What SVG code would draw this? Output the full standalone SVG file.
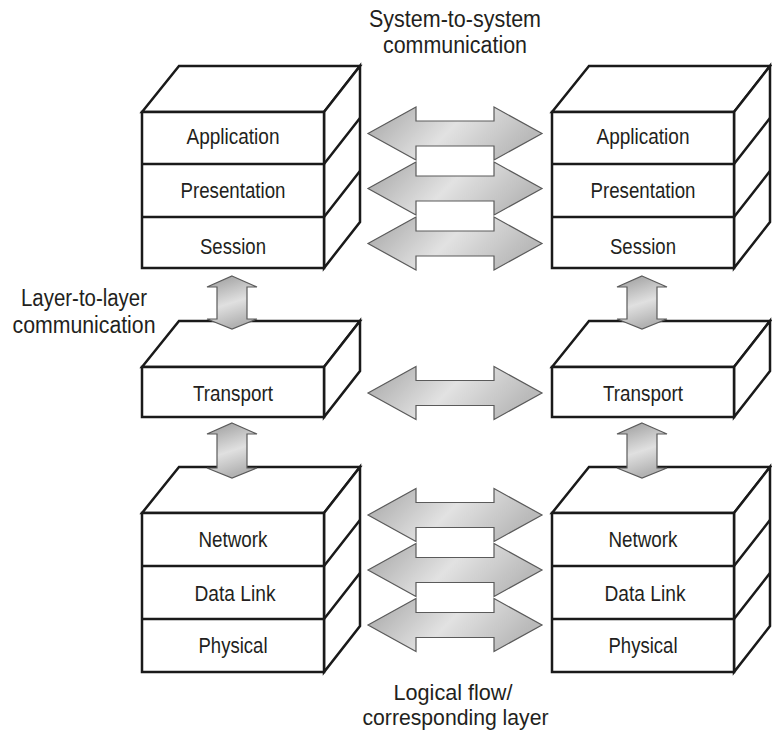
<svg xmlns="http://www.w3.org/2000/svg" width="772" height="734" viewBox="0 0 772 734">
<defs>
<linearGradient id="gh" x1="0" y1="0" x2="1" y2="0.3">
<stop offset="0" stop-color="#a4a4a4"/>
<stop offset="0.55" stop-color="#e2e2e2"/>
<stop offset="1" stop-color="#bababa"/>
</linearGradient>
<linearGradient id="gv" x1="0" y1="0" x2="0.3" y2="1">
<stop offset="0" stop-color="#999999"/>
<stop offset="0.6" stop-color="#e0e0e0"/>
<stop offset="1" stop-color="#b3b3b3"/>
</linearGradient>
<path id="harrow" d="M0,0 L48,-26.5 L48,-12.5 L126,-12.5 L126,-26.5 L174,0 L126,26.5 L126,12.5 L48,12.5 L48,26.5 Z"/>
</defs>
<style>
.box{fill:#fff;stroke:#1a1a1a;stroke-width:2.5;stroke-linejoin:miter}
.div{fill:none;stroke:#1a1a1a;stroke-width:2.5}
.lbl{font-family:"Liberation Sans",Arial,sans-serif;font-size:22px;fill:#231f20;text-anchor:middle}
.cap{font-family:"Liberation Sans",Arial,sans-serif;font-size:23px;fill:#231f20;text-anchor:middle}
.capb{font-family:"Liberation Sans",Arial,sans-serif;font-size:22px;fill:#231f20;text-anchor:middle}
.ha{fill:url(#gh);stroke:#5a5a5a;stroke-width:1.2;stroke-linejoin:miter}
.va{fill:url(#gv);stroke:#5a5a5a;stroke-width:1.2;stroke-linejoin:miter}
</style>

<!-- Left upper stack -->
<g id="left-upper-stack">
<polygon class="box" points="142,112 179,66 360,66 324,112"/>
<polygon class="box" points="324,112 360,66 360,222 324,268"/>
<rect class="box" x="142" y="112" width="182" height="156"/>
<path class="div" d="M142,164 H324 L360,118 M142,217 H324 L360,171"/>
<g id="left-application"><text class="lbl" x="233" y="144" textLength="93" lengthAdjust="spacingAndGlyphs">Application</text></g>
<g id="left-presentation"><text class="lbl" x="233" y="198" textLength="105" lengthAdjust="spacingAndGlyphs">Presentation</text></g>
<g id="left-session"><text class="lbl" x="233" y="254" textLength="66" lengthAdjust="spacingAndGlyphs">Session</text></g>
</g>

<!-- Right upper stack -->
<g id="right-upper-stack">
<polygon class="box" points="552,112 589,66 770,66 734,112"/>
<polygon class="box" points="734,112 770,66 770,222 734,268"/>
<rect class="box" x="552" y="112" width="182" height="156"/>
<path class="div" d="M552,164 H734 L770,118 M552,217 H734 L770,171"/>
<g id="right-application"><text class="lbl" x="643" y="144" textLength="93" lengthAdjust="spacingAndGlyphs">Application</text></g>
<g id="right-presentation"><text class="lbl" x="643" y="198" textLength="105" lengthAdjust="spacingAndGlyphs">Presentation</text></g>
<g id="right-session"><text class="lbl" x="643" y="254" textLength="66" lengthAdjust="spacingAndGlyphs">Session</text></g>
</g>

<!-- Transport boxes -->
<g id="left-transport">
<polygon class="box" points="142,367 179,321 360,321 324,367"/>
<polygon class="box" points="324,367 360,321 360,371 324,417"/>
<rect class="box" x="142" y="367" width="182" height="50"/>
<text class="lbl" x="233" y="401" textLength="80" lengthAdjust="spacingAndGlyphs">Transport</text>
</g>
<g id="right-transport">
<polygon class="box" points="552,367 589,321 770,321 734,367"/>
<polygon class="box" points="734,367 770,321 770,371 734,417"/>
<rect class="box" x="552" y="367" width="182" height="50"/>
<text class="lbl" x="643" y="401" textLength="80" lengthAdjust="spacingAndGlyphs">Transport</text>
</g>

<!-- Left lower stack -->
<g id="left-lower-stack">
<polygon class="box" points="142,513 179,467 360,467 324,513"/>
<polygon class="box" points="324,513 360,467 360,626 324,672"/>
<rect class="box" x="142" y="513" width="182" height="159"/>
<path class="div" d="M142,566 H324 L360,520 M142,619 H324 L360,573"/>
<g id="left-network"><text class="lbl" x="233" y="547" textLength="69" lengthAdjust="spacingAndGlyphs">Network</text></g>
<g id="left-datalink"><text class="lbl" x="235" y="601" textLength="81" lengthAdjust="spacingAndGlyphs">Data Link</text></g>
<g id="left-physical"><text class="lbl" x="233" y="653" textLength="69" lengthAdjust="spacingAndGlyphs">Physical</text></g>
</g>

<!-- Right lower stack -->
<g id="right-lower-stack">
<polygon class="box" points="552,513 589,467 770,467 734,513"/>
<polygon class="box" points="734,513 770,467 770,626 734,672"/>
<rect class="box" x="552" y="513" width="182" height="159"/>
<path class="div" d="M552,566 H734 L770,520 M552,619 H734 L770,573"/>
<g id="right-network"><text class="lbl" x="643" y="547" textLength="69" lengthAdjust="spacingAndGlyphs">Network</text></g>
<g id="right-datalink"><text class="lbl" x="645" y="601" textLength="81" lengthAdjust="spacingAndGlyphs">Data Link</text></g>
<g id="right-physical"><text class="lbl" x="643" y="653" textLength="69" lengthAdjust="spacingAndGlyphs">Physical</text></g>
</g>

<!-- Connectors -->
<g id="connectors">
<use href="#harrow" class="ha" transform="translate(368,133.5)"/>
<use href="#harrow" class="ha" transform="translate(368,188.5)"/>
<use href="#harrow" class="ha" transform="translate(368,243.5)"/>
<use href="#harrow" class="ha" transform="translate(368,393)"/>
<use href="#harrow" class="ha" transform="translate(368,515)"/>
<use href="#harrow" class="ha" transform="translate(368,570)"/>
<use href="#harrow" class="ha" transform="translate(368,625)"/>
<path class="va" d="M232,276 L257,287 L247,287 L247,319 L257,319 L232,329 L207,319 L217,319 L217,287 L207,287 Z"/>
<path class="va" d="M232,423 L257,434 L247,434 L247,468 L257,468 L232,478 L207,468 L217,468 L217,434 L207,434 Z"/>
<path class="va" d="M642,276 L667,287 L657,287 L657,319 L667,319 L642,329 L617,319 L627,319 L627,287 L617,287 Z"/>
<path class="va" d="M642,423 L667,434 L657,434 L657,468 L667,468 L642,478 L617,468 L627,468 L627,434 L617,434 Z"/>
</g>

<!-- Captions -->
<g id="caption-top">
<text class="cap" x="455" y="27" textLength="172" lengthAdjust="spacingAndGlyphs">System-to-system</text>
<text class="cap" x="455" y="53" textLength="144" lengthAdjust="spacingAndGlyphs">communication</text>
</g>
<g id="caption-left">
<text class="cap" x="84" y="306" textLength="126" lengthAdjust="spacingAndGlyphs">Layer-to-layer</text>
<text class="cap" x="84" y="333" textLength="143" lengthAdjust="spacingAndGlyphs">communication</text>
</g>
<g id="caption-bottom">
<text class="capb" x="453" y="700" textLength="119" lengthAdjust="spacingAndGlyphs">Logical flow/</text>
<text class="capb" x="455.5" y="725" textLength="186" lengthAdjust="spacingAndGlyphs">corresponding layer</text>
</g>
</svg>
